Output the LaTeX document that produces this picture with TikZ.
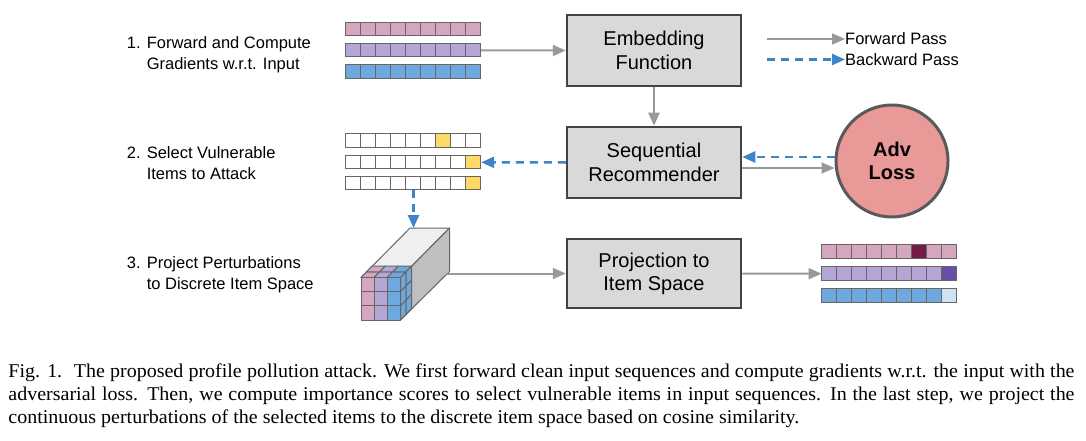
\documentclass[tikz,border=0pt]{standalone}
\usepackage{fontspec}
\setmainfont{Liberation Sans}
\newfontfamily\capfont[FakeStretch=1.025]{Liberation Serif}
\usetikzlibrary{arrows.meta,calc}
\definecolor{pinkc}{HTML}{D5A6BD}
\definecolor{purplec}{HTML}{B4A7D6}
\definecolor{bluec}{HTML}{6FA8DC}
\definecolor{darkpink}{HTML}{741B47}
\definecolor{darkpurple}{HTML}{674EA7}
\definecolor{lightblue}{HTML}{CFE2F3}
\definecolor{yellowc}{HTML}{FFD966}
\definecolor{boxfill}{HTML}{D9D9D9}
\definecolor{boxborder}{HTML}{434343}
\definecolor{lossfill}{HTML}{EA9999}
\definecolor{lossborder}{HTML}{595959}
\definecolor{fwdgray}{HTML}{999999}
\definecolor{bwdblue}{HTML}{3D85C6}
\definecolor{cellborder}{HTML}{666666}
\definecolor{topgray}{HTML}{EFEFEF}
\definecolor{sidegray}{HTML}{BFBFBF}
\tikzset{
  fwd/.style={draw=fwdgray, line width=2pt, -{Triangle[length=13pt,width=11pt]}},
  bwd/.style={draw=bwdblue, line width=2.5pt, dash pattern=on 8pt off 6pt, -{Triangle[length=13pt,width=11pt]}},
  procbox/.style={draw=boxborder, line width=2.5pt, fill=boxfill, minimum width=174pt, minimum height=71pt, align=center, inner sep=0pt, font=\fontsize{20}{23.3}\selectfont},
  lossnode/.style={circle, draw=lossborder, line width=3pt, fill=lossfill, minimum size=112pt, align=center, inner sep=0pt, font=\bfseries\fontsize{20}{23.3}\selectfont},
  steplabel/.style={anchor=north west, align=left, inner sep=0pt, font=\fontsize{16.5}{20.8}\selectfont},
  legtext/.style={anchor=west, inner sep=0pt, font=\fontsize{16.5}{20}\selectfont},
  cellst/.style={draw=cellborder, line width=1pt},
  rowbox/.style={inner sep=0pt, minimum width=135pt, minimum height=#1},
  cubeline/.style={draw=cellborder, line width=1pt, line join=round},
}
\newcommand\cellrowx[5]{%
  \node[rowbox=#4] (#1) at (#2,#3) {};
  \foreach \c [count=\i from 0] in {#5}
    \draw[cellst, fill=\c] ([xshift=\i*15pt]#1.north west) rectangle ++(15,#4);
}
\begin{document}
\begin{tikzpicture}[x=1pt,y=-1pt]
\useasboundingbox[fill=white] (0,0) rectangle (1086,441);

% step labels
\node[steplabel] (l1) at (126.7,36.3) {1. Forward and Compute\\\hphantom{1. }Gradients w.r.t. Input};
\node[steplabel] (l2) at (126.7,146.3) {2. Select Vulnerable\\\hphantom{2. }Items to Attack};
\node[steplabel] (l3) at (126.7,256.3) {3. Project Perturbations\\\hphantom{3. }to Discrete Item Space};

% input arrays
\cellrowx{t1}{413.5}{29}{13.5}{pinkc,pinkc,pinkc,pinkc,pinkc,pinkc,pinkc,pinkc,pinkc}
\cellrowx{t2}{413.5}{50.4}{13.5}{purplec,purplec,purplec,purplec,purplec,purplec,purplec,purplec,purplec}
\cellrowx{t3}{413.5}{71.7}{13.5}{bluec,bluec,bluec,bluec,bluec,bluec,bluec,bluec,bluec}

% selected arrays
\cellrowx{m1}{413.5}{140.7}{13.4}{white,white,white,white,white,white,yellowc,white,white}
\cellrowx{m2}{413.5}{162.3}{13.4}{white,white,white,white,white,white,white,white,yellowc}
\cellrowx{m3}{413.5}{183.4}{13.4}{white,white,white,white,white,white,white,white,yellowc}

% output arrays
\cellrowx{r1}{889.3}{252.1}{14}{pinkc,pinkc,pinkc,pinkc,pinkc,pinkc,darkpink,pinkc,pinkc}
\cellrowx{r2}{889.3}{273.7}{14}{purplec,purplec,purplec,purplec,purplec,purplec,purplec,purplec,darkpurple}
\cellrowx{r3}{889.3}{295.5}{14}{bluec,bluec,bluec,bluec,bluec,bluec,bluec,bluec,lightblue}

% process boxes
\node[procbox] (emb) at (654,50.5) {Embedding\\Function};
\node[procbox] (seq) at (654,162.5) {Sequential\\Recommender};
\node[procbox, minimum height=69pt] (proj) at (654,273.5) {Projection to\\Item Space};
\node[lossnode] (loss) at (892,161) {Adv\\Loss};

% cube (perturbation tensor)
\draw[cubeline, fill=topgray] (361,277.5) -- (410,228) -- (449.5,228) -- (400.5,277.5) -- cycle;
\draw[cubeline, fill=sidegray] (400.5,277.5) -- (449.5,228) -- (449.5,271.5) -- (400.5,320) -- cycle;
\foreach \col [count=\i from 0] in {pinkc,purplec,bluec} {
  \foreach \k in {0,1} {
    \draw[cubeline, fill=\col]
      ({361+\i*13.17+\k*5.5},{277.5-\k*5.7}) --
      ({361+(\i+1)*13.17+\k*5.5},{277.5-\k*5.7}) --
      ({361+(\i+1)*13.17+(\k+1)*5.5},{277.5-(\k+1)*5.7}) --
      ({361+\i*13.17+(\k+1)*5.5},{277.5-(\k+1)*5.7}) -- cycle;
  }
  \foreach \j in {0,1,2}
    \draw[cubeline, fill=\col] ({361+\i*13.17},{277.5+\j*14.17}) rectangle ++(13.17,14.17);
}
\foreach \j in {0,1,2} {
  \foreach \k in {0,1} {
    \draw[cubeline, fill=bluec]
      ({400.5+\k*5.5},{277.5+\j*14.17-\k*5.7}) --
      ({400.5+(\k+1)*5.5},{277.5+\j*14.17-(\k+1)*5.7}) --
      ({400.5+(\k+1)*5.5},{277.5+(\j+1)*14.17-(\k+1)*5.7}) --
      ({400.5+\k*5.5},{277.5+(\j+1)*14.17-\k*5.7}) -- cycle;
  }
}
\coordinate (cubetop) at (413.5,228);
\coordinate (cubeout) at (447,273.5);

% connectors
\draw[fwd] (t2.east) -- (emb.west);
\draw[fwd] (emb.south) -- (seq.north);
\draw[fwd] ([yshift=-5.5pt]seq.east) -- ([yshift=-5.5pt]seq.east -| loss.west);
\draw[bwd] ([yshift=5.5pt]seq.east -| loss.west) -- ([yshift=5.5pt]seq.east);
\draw[bwd] (seq.west) -- (m2.east);
\draw[bwd] (m3.south) -- (cubetop);
\draw[fwd] (cubeout) -- (proj.west);
\draw[fwd] (proj.east) -- (r2.west);

% legend
\node[legtext] (lf) at (845,39) {Forward Pass};
\node[legtext] (lb) at (845,59.5) {Backward Pass};
\coordinate (lfs) at (767,39);
\coordinate (lbs) at (767,59.5);
\draw[fwd] (lfs) -- (lf.west);
\draw[bwd] (lbs) -- (lb.west);

% caption
\node[anchor=north west, text width=1066pt, align=justify, inner sep=0pt, font=\capfont\fontsize{19.5}{23}\selectfont] (cap) at (8.3,363.5)
{Fig. 1.\hspace{0.6em}The proposed profile pollution attack. We first forward clean input sequences and compute gradients w.r.t. the input with the\linebreak
adversarial loss. Then, we compute importance scores to select vulnerable items in input sequences. In the last step, we project the\linebreak
continuous perturbations of the selected items to the discrete item space based on cosine similarity.};
\end{tikzpicture}
\end{document}
